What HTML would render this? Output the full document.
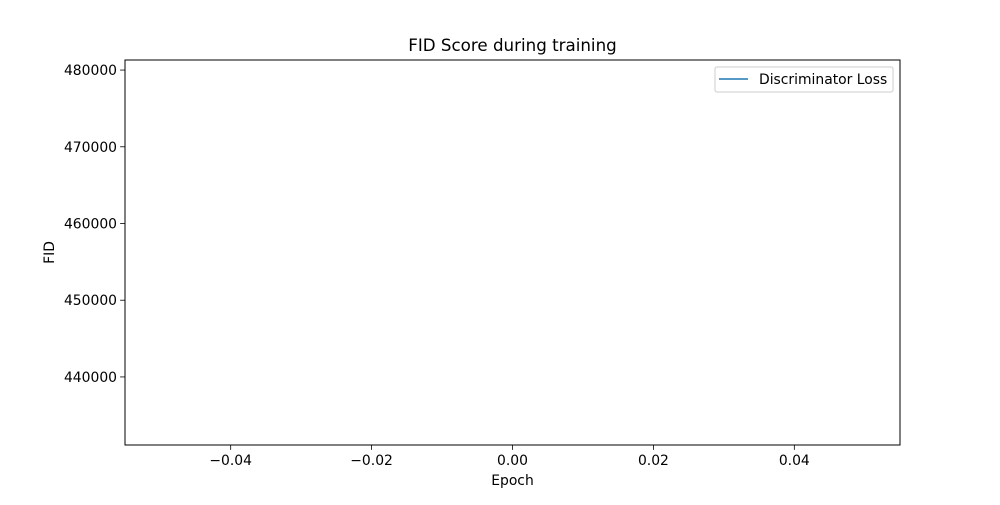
<!DOCTYPE html>
<html><head><meta charset="utf-8"><style>
body{margin:0;background:#fff;}
svg text{font-family:"DejaVu Sans","Liberation Sans",sans-serif;font-size:13.9px;fill:#000;}
</style></head><body>
<svg id="chart" width="1000" height="500" viewBox="0 0 1000 500" xmlns="http://www.w3.org/2000/svg">
<rect width="1000" height="500" fill="#fff"/>
<text x="512.5" y="51" text-anchor="middle" style="font-size:16.7px">FID Score during training</text>
<g id="xticks"></g>
<g id="yticks"></g>
<g id="series"></g>
<rect x="125" y="60" width="775" height="385" fill="none" stroke="#000" stroke-width="1"/>
<text x="512.5" y="485" text-anchor="middle">Epoch</text>
<text transform="translate(54,252.5) rotate(-90)" text-anchor="middle">FID</text>
<g>
<rect x="715" y="67" width="178" height="25" rx="2" fill="#fff" stroke="#ccc" stroke-width="1"/>
<line x1="719" y1="79" x2="748" y2="79" stroke="#1f77b4" stroke-width="1.5"/>
<text x="759" y="84">Discriminator Loss</text>
</g>
</svg>
<script>
const epochs = [0];
const fidValues = [456220];
const xTicks = [-0.04, -0.02, 0.00, 0.02, 0.04];
const xTickLabels = ["\u22120.04", "\u22120.02", "0.00", "0.02", "0.04"];
const yTicks = [440000, 450000, 460000, 470000, 480000];
const yTickLabels = ["440000", "450000", "460000", "470000", "480000"];

const L=125,R=900,T=60,B=445;
const xmin=-0.055,xmax=0.055;
const v=fidValues[0], ymin=v*(1-0.055), ymax=v*(1+0.055);
const xs=x=>L+(x-xmin)/(xmax-xmin)*(R-L);
const ys=y=>B-(y-ymin)/(ymax-ymin)*(B-T);
const NS="http://www.w3.org/2000/svg";
function mk(tag,attrs,parent){const e=document.createElementNS(NS,tag);for(const k in attrs)e.setAttribute(k,attrs[k]);parent.appendChild(e);return e;}
const gx=document.getElementById('xticks'), gy=document.getElementById('yticks'), gs=document.getElementById('series');
xTicks.forEach((t,i)=>{
  const x=xs(t);
  const l=mk('line',{x1:x,y1:B,x2:x,y2:B+4.9,stroke:'#000','stroke-width':0.8},gx);
  
  
  const tx=mk('text',{x:x,y:B+20,'text-anchor':'middle'},gx);
  tx.textContent=xTickLabels[i];
  
  
});
yTicks.forEach((t,i)=>{
  const y=ys(t);
  const l=mk('line',{x1:L-4.9,y1:y,x2:L,y2:y,stroke:'#000','stroke-width':0.8},gy);
  
  
  const tx=mk('text',{x:L-8,y:y+5,'text-anchor':'end'},gy);
  tx.textContent=yTickLabels[i];
  
  
});
const d=epochs.map((e,i)=>(i?'L':'M')+xs(e)+','+ys(fidValues[i])).join(' ');
const p=mk('path',{d:d,fill:'none',stroke:'#1f77b4','stroke-width':1.5},gs);


</script>
</body></html>
